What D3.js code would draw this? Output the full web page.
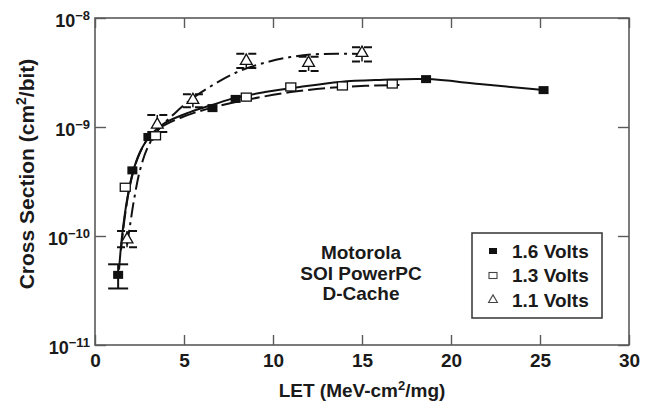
<!DOCTYPE html>
<html><head><meta charset="utf-8">
<script src="https://cdn.jsdelivr.net/npm/d3@7"></script>
<style>
body{margin:0;background:#fff}
svg{display:block}
text{font-family:"Liberation Sans",Arial,Helvetica,sans-serif;font-weight:bold;fill:#1a1a1a}
</style>
</head><body><svg id="c" width="650" height="407"></svg>
<script>
// ---- data ----
const xTicks = [0, 5, 10, 15, 20, 25, 30];
const yTickExps = [-8, -9, -10, -11];

const series = ["1.6 Volts", "1.3 Volts", "1.1 Volts"];

const let16 = [1.3, 2.1, 3.0, 6.6, 7.9, 18.6, 25.2];
const cs16  = [4.4e-11, 4.0e-10, 8.1e-10, 1.49e-9, 1.81e-9, 2.75e-9, 2.18e-9];
const errLet16 = [1.3];
const errLo16  = [3.3e-11];
const errHi16  = [5.5e-11];

const let13 = [1.7, 3.4, 8.5, 11.0, 13.9, 16.7];
const cs13  = [2.8e-10, 8.3e-10, 1.88e-9, 2.33e-9, 2.38e-9, 2.48e-9];

const let11 = [1.8, 3.5, 5.5, 8.5, 12.0, 15.0];
const cs11  = [9.3e-11, 1.05e-9, 1.77e-9, 4.04e-9, 3.87e-9, 4.78e-9];
const lo11  = [7.9e-11, 9.0e-10, 1.52e-9, 3.47e-9, 3.27e-9, 4.0e-9];
const hi11  = [1.11e-10, 1.29e-9, 2.0e-9, 4.7e-9, 4.4e-9, 5.4e-9];

// fitted curves
const fitLet16 = [1.35, 1.52, 1.8, 2.13, 2.53, 3.09, 3.93, 5.34, 6.57, 7.87, 9.55, 11.5, 13.76, 16.0, 18.6, 21.6, 25.2];
const fitCs16  = [4.9e-11, 1.0e-10, 2.14e-10, 3.86e-10, 5.9e-10, 8.3e-10, 1.09e-9, 1.37e-9, 1.59e-9, 1.85e-9, 2.09e-9, 2.33e-9, 2.59e-9, 2.7e-9, 2.75e-9, 2.48e-9, 2.18e-9];
const fitLet13 = [1.46, 1.69, 1.97, 2.36, 2.92, 3.65, 4.78, 6.46, 8.48, 11.0, 13.88, 17.1];
const fitCs13  = [7.4e-11, 1.56e-10, 2.94e-10, 4.98e-10, 7.6e-10, 9.8e-10, 1.21e-9, 1.49e-9, 1.77e-9, 2.09e-9, 2.33e-9, 2.43e-9];
const fitLet11 = [1.8, 1.97, 2.19, 2.53, 2.98, 3.65, 4.49, 5.51, 6.63, 7.87, 9.27, 10.96, 12.64, 15.0];
const fitCs11  = [8.3e-11, 1.26e-10, 2.14e-10, 4.04e-10, 6.6e-10, 9.8e-10, 1.34e-9, 1.85e-9, 2.43e-9, 3.13e-9, 3.78e-9, 4.38e-9, 4.67e-9, 4.67e-9];

const annotation = ["Motorola", "SOI PowerPC", "D-Cache"];

// ---- layout ----
const svg = d3.select("#c");
const L = 95, R = 629, T = 18, B = 345;
const x = d3.scaleLinear().domain([0, 30]).range([L, R]);
const y = d3.scaleLog().domain([1e-11, 1e-8]).range([B, T]);
const ink = "#111";
const frameCol = "#5a5a5a";

// axes
const gx = svg.append("g").attr("transform", `translate(0,${B})`)
  .call(d3.axisBottom(x).tickValues(xTicks).tickSizeInner(-10).tickSizeOuter(0).tickPadding(9).tickFormat(d3.format("d")));
const gxt = svg.append("g").attr("transform", `translate(0,${T})`)
  .call(d3.axisTop(x).tickValues(xTicks).tickSizeInner(-10).tickSizeOuter(0).tickFormat(""));
const yVals = yTickExps.map(e => Math.pow(10, e));
const gy = svg.append("g").attr("transform", `translate(${L},0)`)
  .call(d3.axisLeft(y).tickValues(yVals).tickSizeInner(-11).tickSizeOuter(0).tickPadding(5).tickFormat(""));
const gyr = svg.append("g").attr("transform", `translate(${R},0)`)
  .call(d3.axisRight(y).tickValues(yVals).tickSizeInner(-11).tickSizeOuter(0).tickFormat(""));

[gx, gxt, gy, gyr].forEach(g => {
  g.select(".domain").remove();
  g.selectAll(".tick line").attr("stroke", frameCol).attr("stroke-width", 1.4);
});
gx.selectAll(".tick text").attr("font-size", 19).attr("fill", ink)
  .style("font-family", '"Liberation Sans",Arial,sans-serif').style("font-weight", "bold");

// y tick labels with superscripts
gy.selectAll(".tick").each(function(d) {
  const e = Math.round(Math.log10(d));
  const t = d3.select(this).select("text")
    .attr("x", -5).attr("dy", "0.45em").attr("text-anchor", "end")
    .attr("font-size", 18).attr("fill", ink)
    .style("font-family", '"Liberation Sans",Arial,sans-serif').style("font-weight", "bold");
  t.text(null);
  t.append("tspan").text("10");
  t.append("tspan").attr("font-size", 13).attr("dy", "-7").text("\u2212" + Math.abs(e));
});

// frame
svg.append("rect").attr("x", L).attr("y", T).attr("width", R - L).attr("height", B - T)
  .attr("fill", "none").attr("stroke", frameCol).attr("stroke-width", 1.6);

// axis titles
const xt = svg.append("text").attr("x", (L + R) / 2).attr("y", 397).attr("text-anchor", "middle").attr("font-size", 19);
xt.append("tspan").text("LET (MeV-cm");
xt.append("tspan").attr("font-size", 13).attr("dy", -7).text("2");
xt.append("tspan").attr("dy", 7).text("/mg)");

const yt = svg.append("text").attr("transform", `translate(34,${174}) rotate(-90)`).attr("text-anchor", "middle").attr("font-size", 21);
yt.append("tspan").text("Cross Section (cm");
yt.append("tspan").attr("font-size", 14).attr("dy", -8).text("2");
yt.append("tspan").attr("dy", 8).text("/bit)");

// fitted curves
const line = d3.line().x(d => x(d[0])).y(d => y(d[1])).curve(d3.curveCatmullRom.alpha(0.5));
const fits = [
  {lx: fitLet16, cy: fitCs16, dash: null},
  {lx: fitLet13, cy: fitCs13, dash: "17,5"},
  {lx: fitLet11, cy: fitCs11, dash: "15,5,3,5"}
];
fits.forEach(f => {
  svg.append("path").datum(d3.zip(f.lx, f.cy)).attr("d", line)
    .attr("fill", "none").attr("stroke", ink).attr("stroke-width", 2)
    .attr("stroke-dasharray", f.dash);
});

// error bars 1.6 V
const capW = 20;
errLet16.forEach((lv, i) => {
  const g = svg.append("g").attr("stroke", ink).attr("stroke-width", 2);
  g.append("line").attr("x1", x(lv)).attr("x2", x(lv)).attr("y1", y(errLo16[i])).attr("y2", y(errHi16[i]));
  [errLo16[i], errHi16[i]].forEach(v => g.append("line")
    .attr("x1", x(lv) - capW / 2).attr("x2", x(lv) + capW / 2).attr("y1", y(v)).attr("y2", y(v)));
});

// error bars 1.1 V (dashed caps)
let11.forEach((lv, i) => {
  const g = svg.append("g").attr("stroke", ink).attr("stroke-width", 2);
  g.append("line").attr("x1", x(lv)).attr("x2", x(lv)).attr("y1", y(lo11[i])).attr("y2", y(hi11[i])).attr("stroke-width", 1.5);
  [lo11[i], hi11[i]].forEach(v => g.append("line")
    .attr("x1", x(lv) - capW / 2).attr("x2", x(lv) + capW / 2).attr("y1", y(v)).attr("y2", y(v))
    .attr("stroke-dasharray", "8,4"));
});

// markers
const mw = 10, mh = 8;
svg.append("g").selectAll("rect").data(d3.zip(let16, cs16)).join("rect")
  .attr("x", d => x(d[0]) - mw / 2).attr("y", d => y(d[1]) - mh / 2)
  .attr("width", mw).attr("height", mh).attr("fill", ink);
svg.append("g").selectAll("rect").data(d3.zip(let13, cs13)).join("rect")
  .attr("x", d => x(d[0]) - mw / 2).attr("y", d => y(d[1]) - mh / 2)
  .attr("width", mw).attr("height", mh).attr("fill", "#fff").attr("stroke", ink).attr("stroke-width", 1.3);
const tri = d3.symbol().type(d3.symbolTriangle).size(60);
svg.append("g").selectAll("path").data(d3.zip(let11, cs11)).join("path")
  .attr("d", tri).attr("transform", d => `translate(${x(d[0])},${y(d[1])})`)
  .attr("fill", "#fff").attr("stroke", ink).attr("stroke-width", 1.3);

// annotation
const ann = svg.append("text").attr("text-anchor", "middle").attr("font-size", 19);
annotation.forEach((s, i) => ann.append("tspan").attr("x", 361).attr("y", 259 + i * 20.5).text(s));

// legend
const lg = svg.append("g");
lg.append("rect").attr("x", 472).attr("y", 233).attr("width", 130).attr("height", 85)
  .attr("fill", "#fff").attr("stroke", "#333").attr("stroke-width", 1.5);
series.forEach((s, i) => {
  const cy = 251 + i * 24.5;
  if (i === 0) lg.append("rect").attr("x", 489).attr("y", cy - 3).attr("width", 8).attr("height", 6).attr("fill", ink);
  if (i === 1) lg.append("rect").attr("x", 489).attr("y", cy - 3).attr("width", 8).attr("height", 6).attr("fill", "#fff").attr("stroke", "#444").attr("stroke-width", 1.1);
  if (i === 2) lg.append("path").attr("d", d3.symbol().type(d3.symbolTriangle).size(34)).attr("transform", `translate(493,${cy})`).attr("fill", "#fff").attr("stroke", "#444").attr("stroke-width", 1.1);
  lg.append("text").attr("x", 512).attr("y", cy + 6.5).attr("font-size", 19).text(s);
});
</script>
</body></html>
